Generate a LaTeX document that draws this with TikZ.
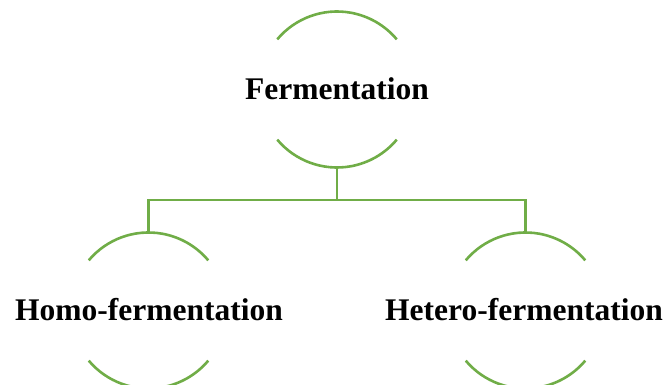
\documentclass[tikz,border=0pt]{standalone}
\usepackage{fontspec}
\setmainfont{Liberation Serif}
\definecolor{leaf}{HTML}{70AD47}
\begin{document}
\begin{tikzpicture}[x=1pt,y=-1pt,
  arcline/.style={draw=leaf,line width=2.6pt},
  conn/.style={draw=leaf,line width=2.6pt},
  label/.style={font=\bfseries\fontsize{31.5}{36}\selectfont,inner sep=0pt,anchor=center}]
\useasboundingbox (0,0) rectangle (667,385);
% circles (only top and bottom arcs visible)
\coordinate (c0) at (337,89.5);
\coordinate (c1) at (148.5,310.5);
\coordinate (c2) at (525.5,310.5);
\foreach \c in {c0,c1,c2}{
  \draw[arcline] (\c) ++(140:78pt) arc[start angle=140,end angle=40,radius=78pt];
  \draw[arcline] (\c) ++(220:78pt) arc[start angle=220,end angle=320,radius=78pt];
}
\node[label] (f) at (337,89) {Fermentation};
\node[label] (ho) at (149,310) {Homo-fermentation};
\node[label] (he) at (524,310) {Hetero-fermentation};
\coordinate (t0) at (337,167.5);
\coordinate (t1) at (148.5,232.5);
\coordinate (t2) at (525.5,232.5);
\draw[conn] (t0) -- (t0 |- 0,200) -| (t1);
\draw[conn] (t0 |- 0,200) -| (t2);
\end{tikzpicture}
\end{document}
